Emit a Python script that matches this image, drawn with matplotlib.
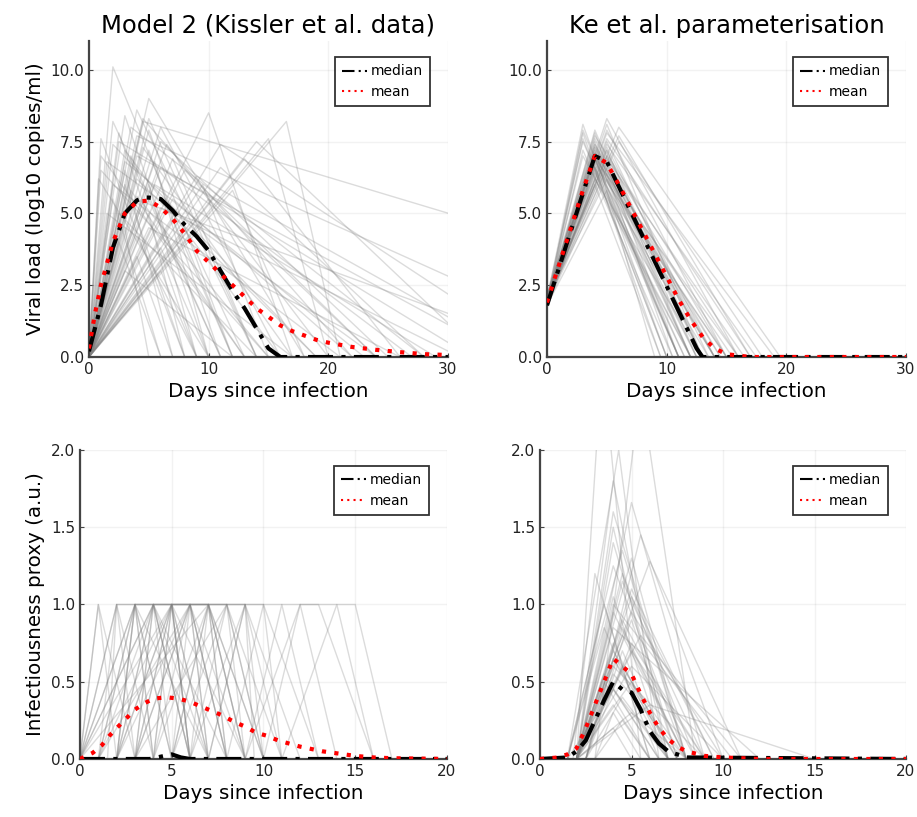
import numpy as np
import matplotlib
matplotlib.use("Agg")
import matplotlib.pyplot as plt

# ---- Model 2 (Kissler) viral load trajectories: peak day, peak value, day it reaches 0
kis_vl_peak_day = [2.0, 5.0, 1.0, 4.5, 10.0, 16.5, 15.0, 14.0, 4.0, 3.0, 4.5, 3.5, 5.0, 6.0, 2.5,
                   3.0, 4.0, 5.5, 6.5, 7.0, 2.0, 3.0, 4.0, 5.0, 6.0, 8.0, 9.0, 11.0, 12.0, 1.0,
                   2.0, 3.5, 4.5, 5.0, 6.0, 7.0, 3.0, 4.0, 5.0, 2.5, 6.0, 4.0, 3.0, 8.0, 5.5,
                   1.5, 4.0, 7.0, 9.5, 3.0, 5.0, 2.0, 6.0, 4.5, 11.0, 13.0, 10.0, 2.5, 6.0, 3.5,
                   1.0, 2.0, 3.0, 4.0, 5.0, 0.8, 1.5, 2.5]
kis_vl_peak_val = [10.1, 9.0, 7.6, 8.2, 8.5, 8.2, 7.6, 7.5, 8.6, 8.4, 8.3, 8.0, 7.9, 7.5, 7.8,
                   7.2, 7.0, 6.8, 7.4, 6.9, 8.2, 6.5, 6.2, 6.0, 6.6, 6.5, 6.3, 6.6, 5.8, 6.5,
                   5.5, 5.8, 5.4, 5.0, 5.2, 4.8, 4.5, 4.2, 4.5, 4.0, 3.8, 3.5, 3.0, 4.5, 6.0,
                   5.0, 7.7, 5.5, 6.0, 6.8, 8.3, 6.0, 3.0, 7.3, 7.4, 6.9, 5.5, 7.5, 8.0, 7.0,
                   7.0, 7.4, 6.0, 5.6, 7.2, 6.2, 6.8, 5.0]
kis_vl_end_day = [12, 18, 8, 70, 17, 21, 20, 33, 14, 10, 22, 28, 12, 25, 9,
                  16, 35, 10, 20, 14, 11, 7, 19, 9, 27, 24, 36, 28, 18, 15,
                  6, 13, 40, 8, 31, 12, 5, 9, 26, 6, 10, 7, 12, 13, 29,
                  17, 45, 22, 15, 23, 14, 21, 9, 17, 38, 26, 24, 32, 16, 11,
                  13, 19, 8, 15, 11, 10, 24, 14]

kis_vl_median_x = [0, 0.5, 1, 2, 3, 4, 4.5, 5, 6, 7, 8, 9, 10, 11, 12, 13, 14, 15, 16, 20, 30]
kis_vl_median_y = [0.2, 1.0, 1.8, 3.8, 5.0, 5.45, 5.55, 5.55, 5.5, 5.1, 4.6, 4.2, 3.7, 3.0, 2.3,
                   1.7, 1.0, 0.3, 0.0, 0.0, 0.0]
kis_vl_mean_x = [0, 0.5, 1, 2, 3, 4, 5, 6, 7, 8, 9, 10, 11, 12, 13, 14, 15, 16, 17, 18, 19, 20,
                 22, 24, 26, 28, 30]
kis_vl_mean_y = [0.3, 1.5, 2.5, 4.0, 5.0, 5.4, 5.45, 5.2, 4.8, 4.3, 3.7, 3.3, 2.9, 2.5, 2.1, 1.7,
                 1.4, 1.1, 0.9, 0.75, 0.6, 0.5, 0.35, 0.25, 0.17, 0.1, 0.07]

# ---- Ke et al. viral load: value at day 0, peak day, peak value, day it reaches 0
ke_vl_start = [2.0, 1.9, 2.1, 1.8, 2.0, 1.9, 2.2, 1.8, 2.0, 1.7, 2.0, 1.9, 2.0, 2.1, 1.8,
               2.0, 1.9, 2.0, 1.8, 2.0, 1.9, 2.0, 2.0, 1.9, 2.1, 1.8, 2.0, 2.0, 1.9, 2.0,
               2.1, 1.8, 2.0, 1.9, 2.0, 2.0, 1.9, 2.0, 2.1, 1.8, 2.0, 2.0, 1.9, 2.0, 2.0,
               1.9, 2.0, 2.1, 1.8, 2.0, 1.9, 2.0, 2.0, 1.9, 2.0]
ke_vl_peak_day = [3, 3, 3, 4, 4, 4, 4, 4, 4, 4, 4, 5, 5, 5, 5,
                  5, 5, 5, 5, 6, 6, 5, 4, 4, 4, 3, 3, 4, 5, 4,
                  5, 4, 4, 3, 5, 4, 4, 5, 4, 5, 4, 6, 4, 5, 4,
                  4, 5, 4, 3, 4, 5, 4, 4, 5, 4]
ke_vl_peak_val = [8.1, 7.8, 7.5, 7.9, 7.6, 7.2, 7.0, 6.8, 6.5, 6.2, 6.0, 8.3, 7.9, 7.6, 7.3,
                  7.0, 6.6, 6.2, 5.8, 8.0, 7.5, 7.8, 7.4, 7.1, 6.9, 7.2, 7.0, 7.7, 7.4, 6.6,
                  6.9, 7.3, 7.5, 7.9, 8.1, 6.4, 7.0, 7.2, 7.8, 6.4, 6.9, 7.7, 7.2, 7.5, 6.7,
                  7.1, 6.8, 7.3, 7.6, 6.9, 7.0, 7.4, 6.6, 7.2, 7.0]
ke_vl_end_day = [10, 9.5, 11, 12, 13, 11, 12.5, 14, 10, 13, 9.5, 16, 15, 17, 14,
                 13, 12, 15, 11, 19.5, 18, 19, 14.5, 15.5, 11.5, 10.5, 12, 16, 17.5, 13.5,
                 16.5, 12, 10.5, 11, 13, 12, 14, 12.5, 11, 14, 16, 17, 9, 13.5, 15,
                 12, 14, 13, 10, 11, 15, 12.5, 11.5, 13, 14.5]

ke_vl_median_x = [0, 4, 5, 12.5, 13, 30]
ke_vl_median_y = [1.8, 7.0, 6.8, 0.3, 0.0, 0.0]
ke_vl_mean_x = [0, 1, 2, 3, 4, 5, 6, 7, 8, 9, 10, 11, 12, 13, 14, 15, 16, 17, 30]
ke_vl_mean_y = [1.9, 3.2, 4.5, 5.8, 7.0, 6.75, 6.0, 5.2, 4.4, 3.6, 2.8, 2.0, 1.3, 0.7, 0.3, 0.1,
                0.05, 0.0, 0.0]

# ---- Model 2 infectiousness: rise start, reach 1, leave 1, back to 0 (days)
kis_inf_a = [0, 0, 1.5, 0, 1, 2, 0, 2, 0, 1, 3, 2, 0, 3, 4, 1, 3, 5, 2, 4, 0, 6, 3, 5, 6, 7, 8,
             9, 9, 10, 11, 2, 0, 1, 2, 4, 3, 1, 5, 2, 0, 4, 6, 7, 3, 1, 2, 0, 3, 5]
kis_inf_b = [1, 2, 2, 3, 3, 3, 3, 4, 4, 4, 4, 5, 5, 5, 5, 6, 6, 6, 6, 7, 7, 7, 8, 8, 9, 9, 10,
             11, 12, 12, 14, 3, 2, 3, 5, 6, 4, 2, 7, 4, 1, 5, 8, 9, 6, 5, 3, 4, 5, 7]
kis_inf_c = [1, 2, 15, 3, 4, 3, 5, 4, 4, 6, 4, 5, 5, 7, 5, 6, 6, 6, 9, 7, 7, 7, 8, 9, 9, 9, 10,
             11, 12, 13, 14, 7, 3, 3, 8, 6, 5, 2, 8, 4, 1, 5, 8, 10, 7, 5, 3, 4, 6, 7]
kis_inf_d = [3, 4, 17, 5, 6, 4, 7, 5, 7, 8, 6, 6, 9, 9, 7, 7, 9, 7, 11, 8, 10, 9, 10, 9.5, 10,
             12, 13, 13, 14, 16, 16, 8, 4, 7, 11, 8, 6, 3, 10, 8, 2, 6, 9, 11, 10, 6, 5, 6, 8, 9]

kis_inf_median_x = [0, 3.8, 4.2, 5.0, 5.5, 6.0, 20]
kis_inf_median_y = [0, 0, 0.01, 0.03, 0.01, 0, 0]
kis_inf_mean_x = [0, 0.7, 1.2, 1.6, 2.0, 2.5, 3.0, 3.5, 4.0, 4.7, 5.4, 6.0, 6.6, 7.2, 7.8, 8.4,
                  9.0, 9.6, 10.2, 10.8, 11.4, 12.0, 12.6, 13.2, 13.8, 14.4, 15.0, 16.0, 17.0, 20.0]
kis_inf_mean_y = [0, 0.04, 0.09, 0.15, 0.2, 0.26, 0.32, 0.36, 0.39, 0.4, 0.39, 0.37, 0.34, 0.31,
                  0.28, 0.24, 0.21, 0.17, 0.15, 0.12, 0.1, 0.08, 0.065, 0.05, 0.04, 0.03, 0.02,
                  0.01, 0.005, 0]

# ---- Ke et al. infectiousness: onset day, peak day, peak value, back to 0
ke_inf_onset = [2.0, 1.5, 3.0, 2.0, 2.0, 2.0, 2.5, 2.0, 1.5, 2.0, 1.8, 2.0, 2.0, 2.0, 2.0,
                2.0, 1.5, 2.0, 2.0, 2.0, 2.5, 2.0, 2.0, 2.0, 2.0, 2.5, 2.0, 3.0, 2.0, 3.0,
                2.0, 2.0, 2.0, 2.0, 2.0, 1.5, 2.5, 2.0, 2.0, 2.0, 2.0, 2.0, 2.5, 2.0, 1.5,
                2.0, 2.5, 2.0, 2.0, 1.5, 2.0, 2.5, 2.0]
ke_inf_peak_day = [3.4, 4.3, 5.5, 4.0, 4.0, 5.0, 5.5, 4.0, 4.5, 6.0, 3.0, 4.5, 5.0, 4.0, 4.0,
                   5.0, 3.5, 4.5, 4.0, 5.0, 4.0, 4.5, 4.0, 5.0, 4.0, 4.5, 4.0, 4.0, 5.0, 4.5,
                   4.0, 6.0, 4.0, 5.0, 4.0, 3.5, 5.0, 4.5, 4.0, 5.5, 4.0, 3.5, 4.5, 5.0, 4.0,
                   4.5, 5.0, 4.0, 3.5, 4.0, 5.0, 4.5, 4.0]
ke_inf_peak_val = [2.6, 2.0, 2.4, 1.8, 1.6, 1.66, 1.45, 1.4, 1.35, 1.28, 1.2, 1.2, 1.1, 1.05, 0.95,
                   0.9, 0.85, 0.8, 0.75, 0.7, 0.65, 0.6, 0.55, 0.5, 0.45, 0.4, 0.35, 0.3, 0.3, 0.25,
                   0.2, 0.35, 1.0, 1.3, 1.5, 1.0, 0.95, 1.15, 0.6, 0.8, 0.85, 0.5, 0.7, 0.6, 1.25,
                   0.9, 0.75, 0.65, 0.55, 0.45, 1.05, 0.85, 0.7]
ke_inf_end = [5.5, 6.5, 8.5, 7.0, 8.0, 9.0, 10.0, 7.5, 8.0, 11.0, 6.0, 8.5, 9.5, 7.0, 8.0,
              7.5, 6.5, 8.0, 7.0, 9.0, 7.0, 7.5, 8.0, 8.0, 6.5, 7.0, 6.0, 5.5, 8.0, 6.0,
              5.0, 15.0, 10.5, 8.0, 7.0, 6.0, 10.0, 9.0, 9.0, 11.0, 12.0, 6.0, 7.0, 10.0, 8.0,
              8.5, 9.0, 7.5, 6.5, 7.0, 9.5, 8.0, 7.5]

ke_inf_median_x = [0, 1.5, 2.0, 2.5, 3.0, 3.5, 4.0, 4.5, 5.0, 5.5, 6.0, 6.5, 7.0, 8.0, 20]
ke_inf_median_y = [0, 0.01, 0.05, 0.12, 0.25, 0.38, 0.5, 0.45, 0.43, 0.32, 0.18, 0.1, 0.05, 0.01, 0]
ke_inf_mean_x = [0, 1.0, 1.5, 2.0, 2.5, 3.0, 3.5, 4.0, 4.5, 5.0, 5.5, 6.0, 6.5, 7.0, 7.5, 8.0,
                 9.0, 10.0, 12.0, 20.0]
ke_inf_mean_y = [0, 0.01, 0.03, 0.07, 0.2, 0.35, 0.5, 0.65, 0.6, 0.55, 0.42, 0.3, 0.2, 0.13,
                 0.08, 0.05, 0.02, 0.01, 0, 0]

GREY = dict(color="#808080", alpha=0.28, lw=1.0)


def style_axis(ax, xlim, ylim, xticks, yticks):
    ax.set_xlim(*xlim)
    ax.set_ylim(*ylim)
    ax.set_xticks(xticks)
    ax.set_yticks(yticks)
    ax.set_yticklabels([f"{t:.1f}" for t in yticks])
    ax.grid(True, color="#000000", alpha=0.05, lw=1.0)
    ax.set_axisbelow(True)
    for s in ["top", "right"]:
        ax.spines[s].set_visible(False)
    for s in ["left", "bottom"]:
        ax.spines[s].set_color("#444444")
        ax.spines[s].set_linewidth(1.6)
    ax.tick_params(direction="in", length=3, labelsize=11, colors="#444444",
                   labelcolor="#222222")
    ax.set_xlabel("Days since infection", fontsize=14.3)


def add_stats(ax, mx, my, ax_, ay_):
    ax.plot(mx, my, color="black", lw=3, ls=(0, (6, 2, 1, 2)), label="median", zorder=5)
    ax.plot(ax_, ay_, color="red", lw=3, ls=(0, (1, 2)), label="mean", zorder=6)
    leg = ax.legend(loc="upper right", fontsize=10, frameon=True, fancybox=False,
                    borderpad=0.5, handlelength=1.8, handletextpad=0.3,
                    bbox_to_anchor=(0.97, 0.97))
    leg.get_frame().set_edgecolor("black")
    leg.get_frame().set_linewidth(1.3)
    for h in leg.get_lines():
        h.set_linewidth(1.5)


fig = plt.figure(figsize=(9.17, 8.17), dpi=100)
ax1 = fig.add_axes([0.097, 0.563, 0.3915, 0.3868])
ax2 = fig.add_axes([0.5965, 0.563, 0.3915, 0.3868])
ax3 = fig.add_axes([0.0872, 0.071, 0.4002, 0.3782])
ax4 = fig.add_axes([0.5889, 0.071, 0.3991, 0.3782])

# top-left
for pd_, pv, ed in zip(kis_vl_peak_day, kis_vl_peak_val, kis_vl_end_day):
    ax1.plot([0, pd_, ed, max(ed, 30)], [0, pv, 0, 0], **GREY)
add_stats(ax1, kis_vl_median_x, kis_vl_median_y, kis_vl_mean_x, kis_vl_mean_y)
style_axis(ax1, (0, 30), (0, 11), [0, 10, 20, 30], [0, 2.5, 5.0, 7.5, 10.0])
ax1.set_title("Model 2 (Kissler et al. data)", fontsize=17.5)
ax1.set_ylabel("Viral load (log10 copies/ml)", fontsize=14.3)

# top-right
for sv, pd_, pv, ed in zip(ke_vl_start, ke_vl_peak_day, ke_vl_peak_val, ke_vl_end_day):
    ax2.plot([0, pd_, ed, 30], [sv, pv, 0, 0], **GREY)
add_stats(ax2, ke_vl_median_x, ke_vl_median_y, ke_vl_mean_x, ke_vl_mean_y)
style_axis(ax2, (0, 30), (0, 11), [0, 10, 20, 30], [0, 2.5, 5.0, 7.5, 10.0])
ax2.set_title("Ke et al. parameterisation", fontsize=17.5)

# bottom-left
for a, b, c, d in zip(kis_inf_a, kis_inf_b, kis_inf_c, kis_inf_d):
    ax3.plot([0, a, b, c, d, 20], [0, 0, 1, 1, 0, 0], **GREY)
add_stats(ax3, kis_inf_median_x, kis_inf_median_y, kis_inf_mean_x, kis_inf_mean_y)
style_axis(ax3, (0, 20), (0, 2), [0, 5, 10, 15, 20], [0, 0.5, 1.0, 1.5, 2.0])
ax3.set_ylabel("Infectiousness proxy (a.u.)", fontsize=14.3)

# bottom-right
for o, pd_, pv, e in zip(ke_inf_onset, ke_inf_peak_day, ke_inf_peak_val, ke_inf_end):
    ax4.plot([0, o, pd_, e, 20], [0, 0, pv, 0, 0], **GREY)
add_stats(ax4, ke_inf_median_x, ke_inf_median_y, ke_inf_mean_x, ke_inf_mean_y)
style_axis(ax4, (0, 20), (0, 2), [0, 5, 10, 15, 20], [0, 0.5, 1.0, 1.5, 2.0])

fig.savefig("out.png", dpi=100)
